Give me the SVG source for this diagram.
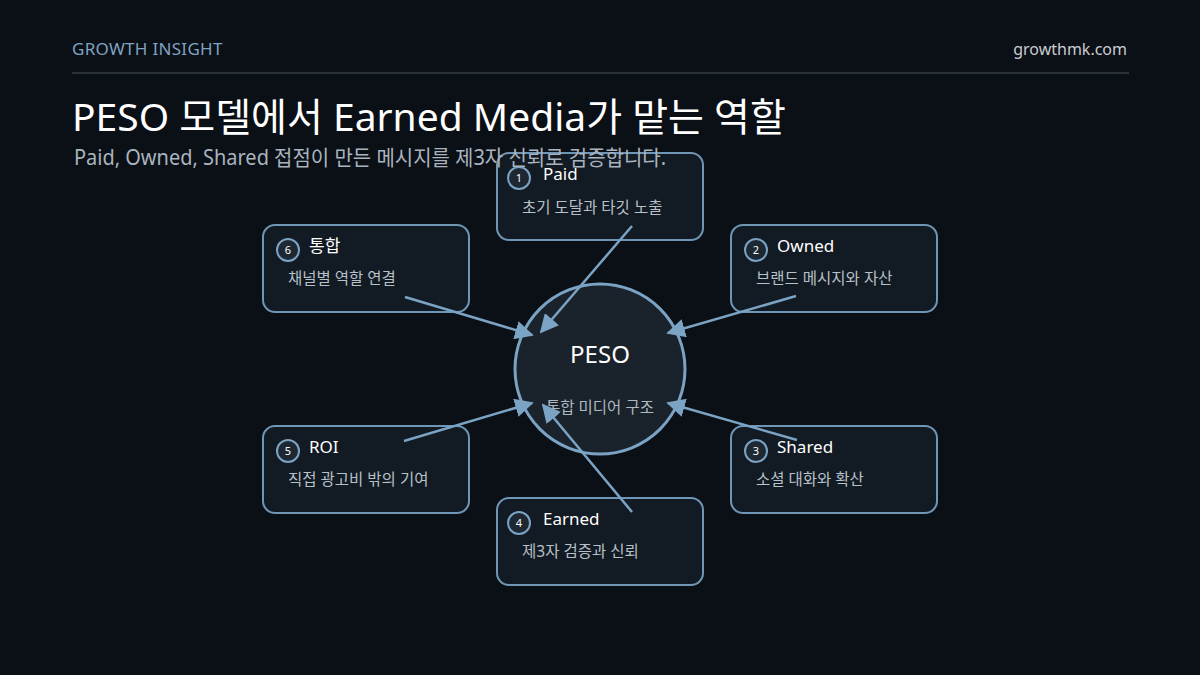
<svg xmlns="http://www.w3.org/2000/svg" width="1200" height="675" viewBox="0 0 1200 675">
<defs>
<style>
text{font-family:"Noto Sans","Noto Sans CJK KR",sans-serif;}
.box{fill:#121a23;stroke:#6f96b5;stroke-width:2;}
.badge{fill:#1d2833;stroke:#7ba3c4;stroke-width:2;}
.num{fill:#ffffff;font-size:11px;text-anchor:middle;}
.ttl{fill:#ffffff;font-size:17px;}
.sub{fill:#b8c0c8;font-size:15.5px;}
.edge{stroke:#7ba3c4;stroke-width:2.5;fill:none;marker-end:url(#ah);}
</style>
<marker id="ah" viewBox="0 0 10 10" refX="9" refY="5" markerWidth="7.5" markerHeight="7.5" orient="auto" markerUnits="strokeWidth">
<path d="M0,0 L10,5 L0,10 z" fill="#7ba3c4"/>
</marker>
</defs>
<rect width="1200" height="675" fill="#0b0f16"/>
<g id="center">
<circle cx="600" cy="369" r="85" fill="#1a222c" stroke="#7ba3c4" stroke-width="3"/>
<text x="600" y="363" font-size="24" fill="#ffffff" text-anchor="middle">PESO</text>
<text x="600" y="413" font-size="15.5" fill="#b0b8c0" text-anchor="middle">통합 미디어 구조</text>
</g>
<g id="node-paid">
<rect class="box" x="497" y="153" width="206" height="87" rx="12"/>
<circle class="badge" cx="519" cy="178" r="11"/>
<text class="num" x="519" y="182">1</text>
<text class="ttl" x="543" y="180">Paid</text>
<text class="sub" x="522" y="213">초기 도달과 타깃 노출</text>
</g>
<g id="node-owned">
<rect class="box" x="731" y="225" width="206" height="87" rx="12"/>
<circle class="badge" cx="756" cy="250" r="11"/>
<text class="num" x="756" y="254">2</text>
<text class="ttl" x="777" y="252">Owned</text>
<text class="sub" x="756" y="284">브랜드 메시지와 자산</text>
</g>
<g id="node-integration">
<rect class="box" x="263" y="225" width="206" height="87" rx="12"/>
<circle class="badge" cx="288" cy="250" r="11"/>
<text class="num" x="288" y="254">6</text>
<text class="ttl" x="309" y="252">통합</text>
<text class="sub" x="288" y="284">채널별 역할 연결</text>
</g>
<g id="node-roi">
<rect class="box" x="263" y="426" width="206" height="87" rx="12"/>
<circle class="badge" cx="288" cy="451" r="11"/>
<text class="num" x="288" y="455">5</text>
<text class="ttl" x="309" y="453">ROI</text>
<text class="sub" x="288" y="485">직접 광고비 밖의 기여</text>
</g>
<g id="node-shared">
<rect class="box" x="731" y="426" width="206" height="87" rx="12"/>
<circle class="badge" cx="756" cy="451" r="11"/>
<text class="num" x="756" y="455">3</text>
<text class="ttl" x="777" y="453">Shared</text>
<text class="sub" x="756" y="485">소셜 대화와 확산</text>
</g>
<g id="node-earned">
<rect class="box" x="497" y="498" width="206" height="87" rx="12"/>
<circle class="badge" cx="519" cy="523" r="11"/>
<text class="num" x="519" y="527">4</text>
<text class="ttl" x="543" y="525">Earned</text>
<text class="sub" x="522" y="557">제3자 검증과 신뢰</text>
</g>
<g id="connectors">
<line class="edge" x1="632" y1="226" x2="541" y2="332"/>
<line class="edge" x1="405" y1="297" x2="532" y2="335"/>
<line class="edge" x1="796" y1="296" x2="668" y2="333"/>
<line class="edge" x1="404" y1="441" x2="532" y2="403"/>
<line class="edge" x1="797" y1="440" x2="668" y2="403"/>
<line class="edge" x1="632" y1="512" x2="543" y2="405"/>
</g>
<g id="header">
<text x="72" y="55" font-size="17" letter-spacing="0.3" fill="#7fa3c0">GROWTH INSIGHT</text>
<text x="1127" y="55" font-size="16" fill="#c8ccd0" text-anchor="end">growthmk.com</text>
<line x1="72" y1="73" x2="1129" y2="73" stroke="#2a323c" stroke-width="2"/>
<text x="72" y="131" font-size="39" fill="#ffffff">PESO 모델에서 Earned Media가 맡는 역할</text>
<text x="74" y="165" font-size="21" fill="#a9b4bf" textLength="592" lengthAdjust="spacingAndGlyphs">Paid, Owned, Shared 접점이 만든 메시지를 제3자 신뢰로 검증합니다.</text>
</g>
</svg>
